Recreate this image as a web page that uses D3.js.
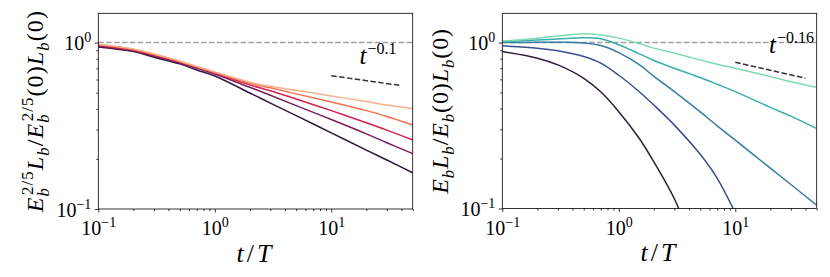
<html>
<head>
  <script src="https://d3js.org/d3.v7.min.js"></script>
  <style>
    body { margin: 0; background: #fff; }
    svg text { font-family: "Liberation Serif", serif; fill: #000; }
    .axis path, .axis line { stroke: #000; stroke-width: 0.8; }
  </style>
</head>
<body>
<svg id="p" width="830" height="277"></svg>
<script>
  // left panel (rocket colours)
  const tLeft = [0.1, 0.2, 0.3, 0.5, 0.7, 1, 2, 3, 5, 10, 20, 30, 50];
  const leftDark    = [0.942, 0.883, 0.817, 0.745, 0.685, 0.630, 0.498, 0.433, 0.364, 0.287, 0.226, 0.197, 0.165];
  const leftPurple  = [0.955, 0.890, 0.830, 0.755, 0.700, 0.648, 0.539, 0.483, 0.418, 0.345, 0.283, 0.250, 0.215];
  const leftCrimson = [0.962, 0.904, 0.843, 0.765, 0.710, 0.657, 0.557, 0.513, 0.458, 0.390, 0.330, 0.298, 0.260];
  const leftOrange  = [0.969, 0.910, 0.850, 0.770, 0.715, 0.662, 0.570, 0.535, 0.492, 0.440, 0.390, 0.360, 0.320];
  const leftPeach   = [0.978, 0.917, 0.855, 0.776, 0.720, 0.667, 0.578, 0.546, 0.517, 0.478, 0.442, 0.422, 0.401];
  const leftColors  = ["#35193e", "#7a1d5c", "#d4204f", "#f3704d", "#f8b08b"];

  // right panel (mako colours)
  const tRight = [0.1, 0.2, 0.3, 0.5, 0.7, 1, 1.5, 2, 3, 5, 7, 10, 20, 30, 50];
  const rightGreen = [1.020, 1.060, 1.095, 1.128, 1.110, 1.063, 0.985, 0.925, 0.863, 0.786, 0.740, 0.700, 0.623, 0.581, 0.537];
  const rightTeal  = [1.010, 1.035, 1.050, 1.070, 1.055, 0.970, 0.855, 0.780, 0.700, 0.615, 0.560, 0.506, 0.407, 0.360, 0.303];
  const rightBlue  = [1.000, 1.003, 1.003, 0.995, 0.960, 0.870, 0.735, 0.625, 0.506, 0.382, 0.315, 0.258, 0.175, 0.1395, 0.1048];
  const tNavy = [0.1, 0.2, 0.3, 0.5, 0.7, 1, 1.5, 2, 3, 5, 7, 10];
  const rightNavy  = [0.955, 0.925, 0.891, 0.823, 0.751, 0.635, 0.505, 0.420, 0.318, 0.212, 0.152, 0.094];
  const tDarkR = [0.1, 0.2, 0.3, 0.5, 0.7, 1, 1.5, 2, 3, 4];
  const rightDark  = [0.882, 0.805, 0.733, 0.609, 0.505, 0.383, 0.264, 0.191, 0.1145, 0.070];
  const rightColors = ["#2e1e3c", "#3f4c96", "#357ba3", "#3aaeac", "#7bdcb1"];

  const xMajor = [0.1, 1, 10];
  const xExp = ["\u22121", "0", "1"];
  const yMajor = [0.1, 1];
  const yExp = ["\u22121", "0"];
  const xMinor = [0.2,0.3,0.4,0.5,0.6,0.7,0.8,0.9,2,3,4,5,6,7,8,9,20,30,40,50];
  const yMinor = [0.2,0.3,0.4,0.5,0.6,0.7,0.8,0.9];

  const svg = d3.select("svg#p");

  // parts: [text, level, italic, dx]; level 0 base, -1 sub, 1 sup
  function addRich(sel, parts, size) {
    let cur = 0;
    parts.forEach(p => {
      const off = p[1] === -1 ? size * 0.25 : (p[1] === 1 ? -size * 0.42 : 0);
      const t = sel.append("tspan").text(p[0])
        .attr("dy", off - cur)
        .attr("font-size", p[1] === 0 ? size : size * 0.7)
        .attr("font-style", p[2] ? "italic" : "normal");
      if (p[3]) t.attr("dx", p[3]);
      cur = off;
    });
  }

  function panel(px, py, w, h, series, ts, colors, refY, refExp, refLabel, labelParts, labelX, spacing) {
    const x = d3.scaleLog().domain([0.1, 50]).range([0, w]);
    const y = d3.scaleLog().domain([0.1, 1.5]).range([h, 0]);
    const g = svg.append("g").attr("transform", "translate(" + px + "," + py + ")");
    const clipId = "clip" + Math.round(px);
    g.append("clipPath").attr("id", clipId).append("rect").attr("width", w).attr("height", h);

    // minor ticks
    g.append("g").attr("class", "axis").attr("transform", "translate(0," + h + ")")
      .call(d3.axisBottom(x).tickValues(xMinor).tickSize(2).tickFormat(""))
      .select(".domain").remove();
    g.append("g").attr("class", "axis")
      .call(d3.axisLeft(y).tickValues(yMinor).tickSize(2).tickFormat(""))
      .select(".domain").remove();

    const xa = g.append("g").attr("class", "axis").attr("transform", "translate(0," + h + ")")
      .call(d3.axisBottom(x).tickValues(xMajor).tickSize(3.5).tickPadding(3.5).tickFormat(""));
    xa.select(".domain").remove();
    xa.selectAll(".tick text").each(function(d, i) {
      const t = d3.select(this).attr("font-size", 20).attr("dy", "0.95em");
      t.append("tspan").text("10");
      t.append("tspan").attr("font-size", 14).attr("dy", -8).text(xExp[i]);
    });
    const ya = g.append("g").attr("class", "axis")
      .call(d3.axisLeft(y).tickValues(yMajor).tickSize(3.5).tickPadding(3.5).tickFormat(""));
    ya.select(".domain").remove();
    ya.selectAll(".tick text").each(function(d, i) {
      const t = d3.select(this).attr("font-size", 20).attr("dy", "0.35em");
      t.append("tspan").text("10");
      t.append("tspan").attr("font-size", 14).attr("dy", -8).text(yExp[i]);
    });

    // reference y = 1
    g.append("line").attr("x1", 0).attr("x2", w).attr("y1", y(1)).attr("y2", y(1))
      .attr("stroke", "#a0a0a0").attr("stroke-width", 1.5).attr("stroke-dasharray", "5.5,2.4");

    const line = d3.line().x(d => x(d[0])).y(d => y(d[1])).curve(d3.curveCatmullRom.alpha(0.5));
    g.append("g").attr("clip-path", "url(#" + clipId + ")")
      .selectAll("path").data(series).join("path")
      .attr("d", (s, i) => line(ts[i].map((t, j) => [t, s[j]])))
      .attr("fill", "none")
      .attr("stroke", (s, i) => colors[i])
      .attr("stroke-width", 1.5);

    // power law guide
    const guide = [10, 40].map(t => [t, refY * Math.pow(t / 10, refExp)]);
    g.append("path").attr("d", d3.line().x(d => x(d[0])).y(d => y(d[1]))(guide))
      .attr("fill", "none").attr("stroke", "#333").attr("stroke-width", 1.5)
      .attr("stroke-dasharray", "5.5,2.4");
    const lab = g.append("text").attr("x", x(refLabel[0])).attr("y", y(refLabel[1])).attr("font-size", 25);
    lab.append("tspan").attr("font-style", "italic").text("t");
    lab.append("tspan").attr("font-size", 16).attr("dy", -10).attr("dx", 1).text(refLabel[2]);

    // frame
    g.append("rect").attr("width", w).attr("height", h).attr("fill", "none")
      .attr("stroke", "#000").attr("stroke-width", 0.8);

    // x label
    const xl = g.append("text").attr("x", w / 2).attr("y", h + 53).attr("text-anchor", "middle")
      .attr("letter-spacing", 3);
    addRich(xl, [["t", 0, true], ["/", 0, false], ["T", 0, true]], 26);

    // y label
    const yl = svg.append("text").attr("transform", "translate(" + labelX + "," + (py + h / 2) + ") rotate(-90)")
      .attr("text-anchor", "middle").attr("letter-spacing", spacing);
    addRich(yl, labelParts, 24);
  }

  const leftLabel = [["E", 0, true], ["b", -1, true], ["2/5", 1, false, -8], ["L", 0, true], ["b", -1, true],
    ["/", 0, false], ["E", 0, true], ["b", -1, true], ["2/5", 1, false, -8], ["(0)", 0, false],
    ["L", 0, true], ["b", -1, true], ["(0)", 0, false]];
  const rightLabel = [["E", 0, true], ["b", -1, true], ["L", 0, true], ["b", -1, true], ["/", 0, false],
    ["E", 0, true], ["b", -1, true], ["(0)", 0, false], ["L", 0, true], ["b", -1, true], ["(0)", 0, false]];

  panel(98.3, 13.3, 314.4, 195.7,
    [leftDark, leftPurple, leftCrimson, leftOrange, leftPeach],
    [tLeft, tLeft, tLeft, tLeft, tLeft], leftColors,
    0.633, -0.1, [17.5, 0.74, "\u22120.1"], leftLabel, 43, 1.1);

  panel(502.3, 13.3, 314.4, 195.2,
    [rightDark, rightNavy, rightBlue, rightTeal, rightGreen],
    [tDarkR, tNavy, tRight, tRight, tRight], rightColors,
    0.76, -0.16, [19.5, 0.86, "\u22120.16"], rightLabel, 448, 0.9);
</script>
</body>
</html>
